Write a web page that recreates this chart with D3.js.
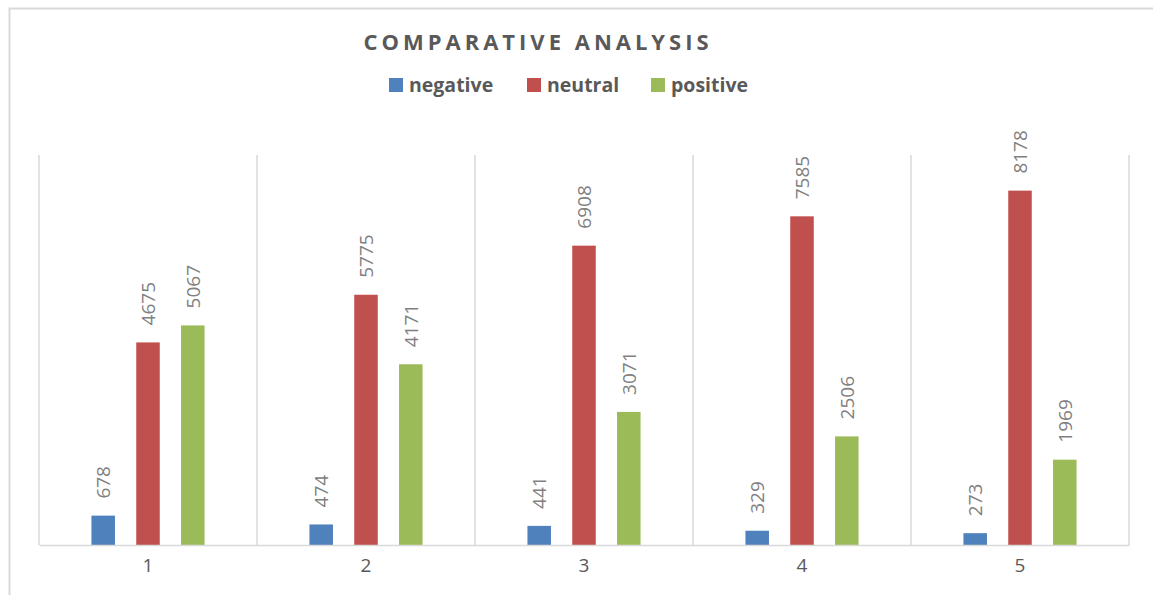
<!DOCTYPE html>
<html><head><meta charset="utf-8">
<script src="https://cdn.jsdelivr.net/npm/d3@7/dist/d3.min.js"></script>
<style>body{margin:0;background:#fff}svg{display:block}</style>
</head><body>
<script>
const categories = ["1","2","3","4","5"];
const seriesNames = ["negative","neutral","positive"];
const negative = [678,474,441,329,273];
const neutral = [4675,5775,6908,7585,8178];
const positive = [5067,4171,3071,2506,1969];
const colors = ["#4f81bd","#c0504d","#9bbb59"];
const series = [negative, neutral, positive];

const W=1153,H=595;
const svg=d3.select("body").append("svg").attr("width",W).attr("height",H);
svg.append("rect").attr("x",9.5).attr("y",8.5).attr("width",W).attr("height",H).attr("fill","#fff").attr("stroke","#d9d9d9").attr("stroke-width",2);

const L=39,R=1129,T=155,B=545;
const x0=d3.scaleBand().domain(categories).range([L,R]).padding(0);
const cw=x0.bandwidth();
const gw=134.4;
const x1=d3.scaleBand().domain(seriesNames).range([(cw-gw)/2,(cw+gw)/2]).paddingInner(0.475).paddingOuter(0.2375);
const y=d3.scaleLinear().domain([0,9000]).range([B,T]);

const bounds=categories.map(c=>x0(c)).concat([R]);
svg.append("g").selectAll("line").data(bounds).join("line")
 .attr("x1",d=>d).attr("x2",d=>d).attr("y1",T).attr("y2",B)
 .attr("stroke","#d9d9d9").attr("stroke-width",1.5);

const g=svg.append("g");
categories.forEach((c,i)=>{
  seriesNames.forEach((s,j)=>{
    const v=series[j][i];
    const bx=x0(c)+x1(s);
    g.append("rect").attr("x",bx).attr("y",y(v)).attr("width",x1.bandwidth()).attr("height",B-y(v)).attr("fill",colors[j]);
    const cx=bx+x1.bandwidth()/2;
    g.append("text").attr("transform",`translate(${cx+7},${y(v)-17}) rotate(-90)`)
     .attr("font-family","Open Sans").attr("font-size",19).attr("fill","#808080").text(v);
  });
});

const xa=svg.append("g").attr("transform",`translate(0,${B})`).call(d3.axisBottom(x0).tickSize(0).tickPadding(14));
xa.select(".domain").attr("stroke","#d9d9d9").attr("stroke-width",1.5);
xa.selectAll("text").attr("font-family","Open Sans").attr("font-size",19).attr("fill","#595959");

svg.append("text").attr("x",538).attr("y",50).attr("text-anchor","middle")
 .attr("font-family","Open Sans").attr("font-weight","bold").attr("font-size",22)
 .attr("letter-spacing",4).attr("fill","#595959").text("COMPARATIVE ANALYSIS");

const legX=[389,527,651];
seriesNames.forEach((s,j)=>{
  svg.append("rect").attr("x",legX[j]).attr("y",78).attr("width",14).attr("height",14).attr("fill",colors[j]);
  svg.append("text").attr("x",legX[j]+20).attr("y",91.5).attr("font-family","Open Sans").attr("font-weight","bold")
   .attr("font-size",19.5).attr("fill","#595959").text(s);
});
</script>
</body></html>
